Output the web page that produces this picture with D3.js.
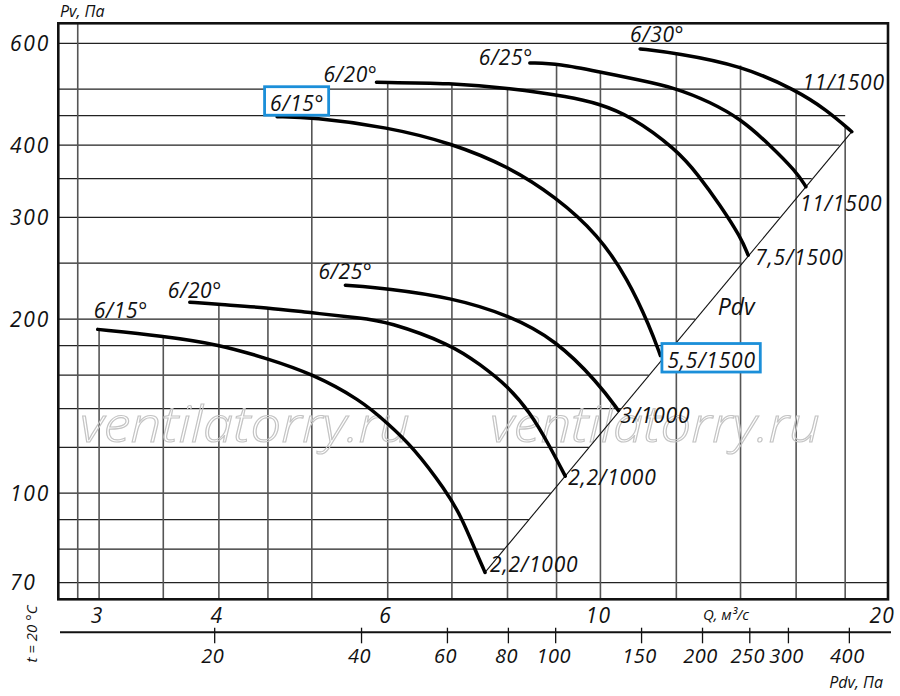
<!DOCTYPE html>
<html><head><meta charset="utf-8">
<script src="https://cdn.jsdelivr.net/npm/d3@7"></script>
<style>
html,body{margin:0;padding:0;background:#fff;}
svg text{font-family:"Open Sans",sans-serif;font-style:italic;fill:#111;}
</style></head><body>
<svg id="c" width="900" height="696"></svg>
<script>
// ---------- DATA ----------
const Q_DOMAIN = [2.72, 19.95];          // Q, m3/s (log)
const P_DOMAIN = [65.5, 650];            // Pv, Pa (log)
const PDV_DOMAIN = [9.56, 480];          // Pdv, Pa (log)
const Q_TICKS = [3, 4, 6, 10, 20];
const P_TICKS = [70, 100, 200, 300, 400, 600];
const PDV_TICKS = [20, 40, 60, 80, 100, 150, 200, 250, 300, 400];
const Q_GRID = [2.85, 3, 3.5, 4, 4.5, 5, 6, 7, 8, 9, 10, 12, 14, 16, 18];
const P_GRID = [70, 80, 90, 100, 120, 140, 160, 180, 200, 250, 300, 350, 400, 450, 500, 600];

const curveSmall15 = [[2.99,192],[3.49,187],[3.99,181],[4.49,171],[5.0,161],[5.62,145],[6.0,132],[6.38,120],[6.90,101],[7.16,91],[7.40,79.8],[7.58,72.9]];
const curveSmall20 = [[3.73,214],[3.99,212],[4.49,209.5],[5.0,205],[5.62,201],[6.0,198],[6.98,181],[7.49,167],[8.01,153],[8.44,138],[8.82,122],[9.19,107]];
const curveSmall25 = [[5.42,229],[6.0,226],[6.98,218],[8.01,203.5],[8.99,184],[9.95,155],[10.44,139]];
const curveBig15 = [[4.6,448],[5.0,447],[6.0,430],[7.0,403],[8.03,367],[8.97,326],[9.95,280],[10.69,234],[11.26,194],[11.55,173]];
const curveBig20 = [[5.84,514],[7.0,512],[8.03,502],[9.3,485],[9.95,472],[10.74,450],[12.01,393],[12.65,355],[13.33,315],[14.01,277],[14.26,258]];
const curveBig25 = [[8.44,555],[9.07,553],[9.95,536],[10.95,519],[12.0,502],[13.01,475],[14.01,444],[15.03,400],[16.0,360],[16.38,339]];
const curveBig30 = [[11.0,587],[12.0,577],[14.04,549],[16.0,498],[17.22,460],[18.29,422]];
const pdvLine = [[7.58,72.9],[18.29,422]];

const ANGLE_LABELS = ["6/15°","6/20°","6/25°","6/15°","6/20°","6/25°","6/30°"];
const MOTOR_LABELS = ["2,2/1000","2,2/1000","3/1000","5,5/1500","7,5/1500","11/1500","11/1500"];
const CURVES = [curveSmall15, curveSmall20, curveSmall25, curveBig15, curveBig20, curveBig25, curveBig30];

// ---------- LAYOUT / STYLE ----------
const M = {left:58.3, right:888, top:23.3, bottom:599.3};
const angleOff = [[-4,-11,'start'],[-22,-4,'start'],[-27,-6,'start'],[-7,-6,'start'],[1,0,'end'],[3,2,'end'],[-10,-7,'start']];
const motorOff = [[5,0,'start'],[3,9,'start'],[2,13,'start'],[7,12,'start'],[7,10,'start'],[-6,24,'start'],[33,-42,'end']];
const BOXED = 3;
const BLUE = "#1b8fd9";

const svg = d3.select("#c");
const x = d3.scaleLog().domain(Q_DOMAIN).range([M.left, M.right]);
const y = d3.scaleLog().domain(P_DOMAIN).range([M.bottom, M.top]);
const xp = d3.scaleLog().domain(PDV_DOMAIN).range([M.left, M.right]);

function curveP(c, q){
  if (q < c[0][0] || q > c[c.length-1][0]) return null;
  for (let i=0;i<c.length-1;i++){
    const a=c[i], b=c[i+1];
    if (q>=a[0] && q<=b[0]){
      const t=(Math.log(q)-Math.log(a[0]))/(Math.log(b[0])-Math.log(a[0]));
      return Math.exp(Math.log(a[1])+t*(Math.log(b[1])-Math.log(a[1])));
    }
  }
  return null;
}
const maxCurveP = d3.max(CURVES, c=>d3.max(c, d=>d[1]));
const kPdv = pdvLine[0][1]/(pdvLine[0][0]*pdvLine[0][0]);

// horizontal grid
const gGrid = svg.append("g");
gGrid.selectAll("line.h").data(P_GRID).join("line")
  .attr("x1", M.left)
  .attr("x2", p => {
    if (p < pdvLine[0][1] || p > maxCurveP) return M.right;
    const q = Math.min(Math.sqrt(p/kPdv), Q_GRID[Q_GRID.length-1]);
    return x(q);
  })
  .attr("y1", p=>y(p)).attr("y2", p=>y(p))
  .attr("stroke","#222").attr("stroke-width",1.3);

// vertical grid
gGrid.selectAll("line.v").data(Q_GRID).join("line")
  .attr("x1", q=>x(q)).attr("x2", q=>x(q))
  .attr("y1", q => {
    const ps = CURVES.map(c=>curveP(c,q)).filter(v=>v!==null);
    return ps.length ? y(d3.max(ps)) : M.top;
  })
  .attr("y2", M.bottom)
  .attr("stroke","#555").attr("stroke-width",1.6);

// watermarks
const wm = svg.append("g");
[[80,441.7],[490,441.7]].forEach(([wx,wy])=>{
  wm.append("text").attr("x",wx).attr("y",wy)
    .attr("textLength",330).attr("lengthAdjust","spacingAndGlyphs")
    .style("font-size","49px").style("font-weight","300")
    .style("fill","none").attr("stroke","#c4c4c4").attr("stroke-width",1.1)
    .text("ventilatorry.ru");
});

// frame
svg.append("rect").attr("x",M.left).attr("y",M.top)
  .attr("width",M.right-M.left).attr("height",M.bottom-M.top)
  .attr("fill","none").attr("stroke","#111").attr("stroke-width",2.6);

// Pdv diagonal line
const line = d3.line().x(d=>x(d[0])).y(d=>y(d[1]));
svg.append("path").attr("d", line(pdvLine)).attr("fill","none")
  .attr("stroke","#111").attr("stroke-width",1.1);

// curves
const cline = d3.line().x(d=>x(d[0])).y(d=>y(d[1])).curve(d3.curveBasis);
svg.append("g").selectAll("path").data(CURVES).join("path")
  .attr("d", d=>cline(d)).attr("fill","none")
  .attr("stroke","#000").attr("stroke-width",3.5).attr("stroke-linecap","round");

// curve labels
const gl = svg.append("g");
function boxed(t){
  const bb = t.node().getBBox();
  gl.insert("rect", () => t.node())
    .attr("x", bb.x-5.5).attr("y", bb.y-2).attr("width", bb.width+10)
    .attr("height", bb.height+0.5)
    .attr("fill","#fff").attr("stroke",BLUE).attr("stroke-width",2.8);
}
CURVES.forEach((c,i)=>{
  const s=c[0], e=c[c.length-1];
  const ta = gl.append("text").attr("x", x(s[0])+angleOff[i][0]).attr("y", y(s[1])+angleOff[i][1])
    .attr("text-anchor", angleOff[i][2]).style("font-size","21px").style("letter-spacing","0.6px")
    .text(ANGLE_LABELS[i]);
  const tm = gl.append("text").attr("x", x(e[0])+motorOff[i][0]).attr("y", y(e[1])+motorOff[i][1])
    .attr("text-anchor", motorOff[i][2]).style("font-size","21px").style("letter-spacing","0.8px")
    .text(MOTOR_LABELS[i]);
  if (i===BOXED){ boxed(ta); boxed(tm); }
});
// Pdv label next to the line
const pm = pdvLine[0], pe = pdvLine[1];
const qMid = Math.sqrt(pm[0]*pe[0])*1.12, pMid = kPdv*qMid*qMid;
gl.append("text").attr("x", x(qMid)+2).attr("y", y(pMid)+21)
  .style("font-size","23px").text("Pdv");

// Y ticks
svg.append("g").selectAll("text").data(P_TICKS).join("text")
  .attr("x", 10).attr("y", p=>y(p)).attr("dy","0.36em")
  .style("font-size","21px").style("letter-spacing","1.8px").text(d=>d);
svg.append("text").attr("x",60).attr("y",17).style("font-size","16px").text("Pv, Па");

// Q ticks
svg.append("g").selectAll("text").data(Q_TICKS).join("text")
  .attr("x", (q,i)=> i===Q_TICKS.length-1 ? x(q)+6 : x(q)-2)
  .attr("y", M.bottom+24)
  .attr("text-anchor",(q,i)=> i===Q_TICKS.length-1 ? "end":"middle")
  .style("font-size","21px").style("letter-spacing","1.2px").text(d=>d);
svg.append("text").attr("x",726).attr("y",M.bottom+21).attr("text-anchor","middle")
  .style("font-size","15px").text("Q, м³/с");

// Pdv axis
const pdvY = M.bottom+33;
svg.append("line").attr("x1",M.left+1.7).attr("x2",M.right+3).attr("y1",pdvY).attr("y2",pdvY)
  .attr("stroke","#111").attr("stroke-width",2);
const gp = svg.append("g");
gp.selectAll("line").data(PDV_TICKS).join("line")
  .attr("x1",d=>xp(d)).attr("x2",d=>xp(d)).attr("y1",pdvY-4.6).attr("y2",pdvY+11)
  .attr("stroke","#111").attr("stroke-width",1.3);
gp.selectAll("text").data(PDV_TICKS).join("text")
  .attr("x",d=>xp(d)-2).attr("y",pdvY+30.4).attr("text-anchor","middle")
  .style("font-size","20px").style("letter-spacing","0.5px").text(d=>d);
svg.append("text").attr("x",883).attr("y",688).attr("text-anchor","end")
  .style("font-size","16px").text("Pdv, Па");
svg.append("text").attr("transform","translate(37,634) rotate(-90)")
  .attr("text-anchor","middle").style("font-size","15px").text("t = 20 °C");
</script></body></html>
